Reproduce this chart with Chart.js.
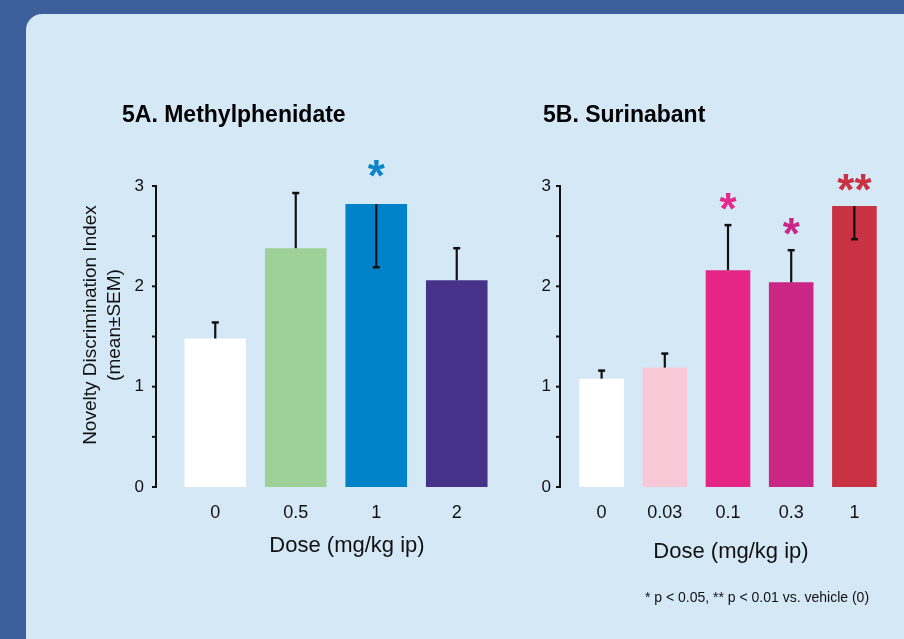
<!DOCTYPE html>
<html>
<head>
<meta charset="utf-8">
<script src="https://cdn.jsdelivr.net/npm/chart.js@4.4.0/dist/chart.umd.min.js"></script>
<style>
  html, body { margin: 0; padding: 0; width: 904px; height: 639px; overflow: hidden; background: #3d5f9b; }
  #panel { position: absolute; left: 26px; top: 14px; width: 900px; height: 660px; background: #d5e8f6; border-top-left-radius: 16px; }
  #cA { position: absolute; left: 0; top: 0; }
  #cB { position: absolute; left: 520px; top: 0; }
</style>
</head>
<body>
<div id="panel"></div>
<canvas id="cA" width="520" height="639"></canvas>
<canvas id="cB" width="384" height="639"></canvas>
<script>
// 5A. Methylphenidate
const doseA = ['0', '0.5', '1', '2'];
const meanA = [1.48, 2.38, 2.82, 2.06];
const semA = [0.16, 0.55, 0.63, 0.32];
const semDirA = [1, 1, -1, 1];   // +1 whisker drawn up, -1 drawn down into the bar
const sigA = ['', '', '*', ''];

// 5B. Surinabant
const doseB = ['0', '0.03', '0.1', '0.3', '1'];
const meanB = [1.08, 1.19, 2.16, 2.04, 2.80];
const semB = [0.08, 0.14, 0.45, 0.32, 0.33];
const semDirB = [1, 1, 1, 1, -1];
const sigB = ['', '', '*', '*', '**'];

const yTicks = [0, 1, 2, 3];

const colorsA = ['#ffffff', '#9dd197', '#0082c8', '#47328a'];
const starColorsA = ['', '', '#0a86c8', ''];
const colorsB = ['#ffffff', '#f8c8d7', '#e52687', '#c92686', '#c93242'];
const starColorsB = ['', '', '#e5288a', '#c92686', '#c93242'];

const FONT = '"Liberation Sans", Arial, Helvetica, sans-serif';

// draw text so that its ink box is centred on (x, cy)
function centerText(ctx, text, x, cy) {
    const m = ctx.measureText(text);
    ctx.textAlign = 'center';
    ctx.textBaseline = 'alphabetic';
    ctx.fillText(text, x, cy + (m.actualBoundingBoxAscent - m.actualBoundingBoxDescent) / 2);
}

function overlay(opt) {
    return {
        id: 'overlay',
        afterDatasetsDraw(chart) {
            const { ctx } = chart;
            const y = chart.scales.y;
            const ds = chart.data.datasets[0];
            const meta = chart.getDatasetMeta(0);
            ctx.save();

            // y axis line with half-unit ticks
            ctx.strokeStyle = '#111';
            ctx.lineWidth = 2;
            ctx.beginPath();
            ctx.moveTo(opt.axisX, y.getPixelForValue(y.min) + 1);
            ctx.lineTo(opt.axisX, y.getPixelForValue(y.max) - 1);
            ctx.stroke();
            for (let v = y.min; v <= y.max; v += 0.5) {
                const py = y.getPixelForValue(v);
                ctx.beginPath();
                ctx.moveTo(opt.axisX - 4, py);
                ctx.lineTo(opt.axisX, py);
                ctx.stroke();
            }

            // SEM whiskers + significance stars
            meta.data.forEach((bar, i) => {
                const end = ds.data[i] + ds.sem[i] * ds.semDir[i];
                const pe = y.getPixelForValue(end);
                ctx.strokeStyle = '#111';
                ctx.lineWidth = 2.2;
                ctx.beginPath();
                ctx.moveTo(bar.x, bar.y);
                ctx.lineTo(bar.x, pe);
                ctx.stroke();
                ctx.lineWidth = 2.5;
                ctx.beginPath();
                ctx.moveTo(bar.x - 3.5, pe);
                ctx.lineTo(bar.x + 3.5, pe);
                ctx.stroke();

                if (ds.sig[i]) {
                    const top = Math.min(bar.y, pe);
                    ctx.fillStyle = ds.starColors[i];
                    ctx.font = 'bold 44px ' + FONT;
                    centerText(ctx, ds.sig[i], bar.x, top - opt.starGap);
                }
            });

            // titles
            ctx.fillStyle = '#000';
            ctx.font = 'bold 23px ' + FONT;
            ctx.textAlign = 'left';
            ctx.textBaseline = 'alphabetic';
            ctx.fillText(opt.title, opt.titleX, 122);

            ctx.fillStyle = '#111';
            ctx.font = '22px ' + FONT;
            centerText(ctx, 'Dose (mg/kg ip)', opt.xTitleX, opt.xTitleY);

            if (opt.yTitle) {
                ctx.font = '19px ' + FONT;
                opt.yTitle.forEach((line, k) => {
                    ctx.save();
                    ctx.translate(91 + k * 24, 325);
                    ctx.rotate(-Math.PI / 2);
                    ctx.textAlign = 'center';
                    ctx.textBaseline = 'middle';
                    ctx.fillText(line, 0, 0);
                    ctx.restore();
                });
            }
            if (opt.footnote) {
                ctx.font = '14px ' + FONT;
                centerText(ctx, opt.footnote, 237, 598);
            }
            ctx.restore();
        }
    };
}

function makeChart(id, labels, values, sem, semDir, sig, colors, starColors, lay, opt) {
    return new Chart(document.getElementById(id).getContext('2d'), {
        type: 'bar',
        data: {
            labels: labels,
            datasets: [{
                data: values,
                sem: sem,
                semDir: semDir,
                sig: sig,
                starColors: starColors,
                backgroundColor: colors,
                borderWidth: 0,
                barPercentage: lay.barPct,
                categoryPercentage: 1
            }]
        },
        options: {
            responsive: false,
            animation: false,
            layout: { padding: lay.padding },
            plugins: { legend: { display: false }, tooltip: { enabled: false } },
            scales: {
                x: {
                    grid: { display: false, drawTicks: false },
                    border: { display: false },
                    ticks: { color: '#111', font: { family: FONT, size: 18 }, padding: 15 },
                    afterFit: (s) => { s.height = 60; }
                },
                y: {
                    min: yTicks[0],
                    max: yTicks[yTicks.length - 1],
                    grid: { display: false, drawTicks: false },
                    border: { display: false },
                    ticks: { stepSize: 1, color: '#111', font: { family: FONT, size: 17 }, padding: lay.yTickPad },
                    afterFit: (s) => { s.width = lay.yWidth; }
                }
            }
        },
        plugins: [overlay(opt)]
    });
}

makeChart('cA', doseA, meanA, semA, semDirA, sigA, colorsA, starColorsA,
    { barPct: 0.765, padding: { left: 100, right: 23, top: 186, bottom: 92 }, yWidth: 75, yTickPad: 31 },
    { axisX: 156, starGap: 36, title: '5A. Methylphenidate', titleX: 122, xTitleX: 347, xTitleY: 546,
      yTitle: ['Novelty Discrimination Index', '(mean\u00B1SEM)'] });

makeChart('cB', doseB, meanB, semB, semDirB, sigB, colorsB, starColorsB,
    { barPct: 0.706, padding: { left: 10, right: 18, top: 186, bottom: 92 }, yWidth: 40, yTickPad: 19 },
    { axisX: 40, starGap: 24, title: '5B. Surinabant', titleX: 23, xTitleX: 211, xTitleY: 552,
      footnote: '* p < 0.05, ** p < 0.01 vs. vehicle (0)' });
</script>
</body>
</html>
